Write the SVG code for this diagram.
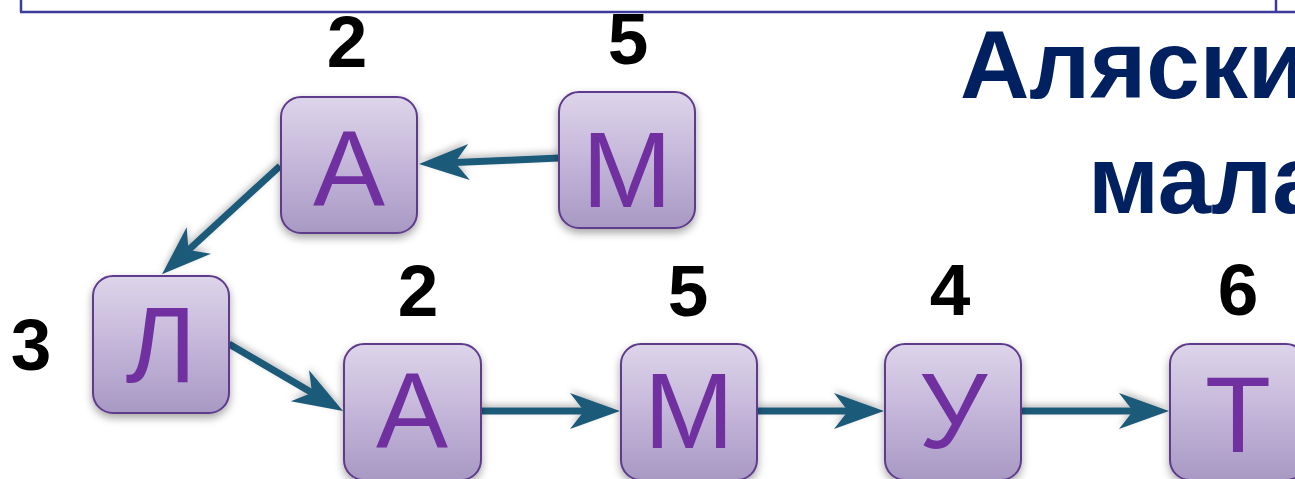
<svg xmlns="http://www.w3.org/2000/svg" width="1295" height="479" viewBox="0 0 1295 479">
<defs>
<linearGradient id="ng" x1="0" y1="0" x2="0" y2="1">
<stop offset="0" stop-color="#ddd5ea"/>
<stop offset="0.5" stop-color="#c4b6d9"/>
<stop offset="1" stop-color="#a899c4"/>
</linearGradient>
<filter id="sh" x="-20%" y="-20%" width="140%" height="150%">
<feDropShadow dx="0" dy="4" stdDeviation="4" flood-color="#000" flood-opacity="0.35"/>
</filter>
<filter id="ash" filterUnits="userSpaceOnUse" x="0" y="0" width="1295" height="479">
<feDropShadow dx="0" dy="-3" stdDeviation="3" flood-color="#000" flood-opacity="0.25"/>
</filter>
<marker id="ah" markerUnits="userSpaceOnUse" markerWidth="60" markerHeight="40" viewBox="-16 -20 54 40" refX="0" refY="0" orient="auto">
<path d="M36,0 L-14,-18 L0,0 L-14,18 Z" fill="#1f5a7a"/>
</marker>
<style>
.node rect{fill:url(#ng);stroke:#5f3b8c;stroke-width:2;filter:url(#sh)}
.node text{font-family:"Liberation Sans",Arial,sans-serif;font-size:108px;fill:#7030a0;text-anchor:middle}
.num{font-family:"Liberation Sans",Arial,sans-serif;font-size:73px;font-weight:bold;fill:#000;text-anchor:middle}
.title{font-family:"Liberation Sans",Arial,sans-serif;font-size:96px;font-weight:bold;fill:#002060}
.conn line{stroke:#1f5a7a;stroke-width:7;marker-end:url(#ah)}
.conn{filter:url(#ash)}
.frame{stroke:#3b3b9a;stroke-width:2.5;fill:none}
</style>
</defs>
<rect width="1295" height="479" fill="#fff"/>
<g id="frame">
<line class="frame" x1="21" y1="-2" x2="21" y2="12"/>
<line class="frame" x1="20" y1="12" x2="1295" y2="12"/>
<line class="frame" x1="1276" y1="-2" x2="1276" y2="12"/>
</g>
<g id="title">
<text class="title" x="960" y="98">Аляски</text>
<text class="title" x="1088" y="213">мала</text>
</g>
<g id="connectors" class="conn">
<line x1="559" y1="158" x2="455" y2="162.5"/>
<line x1="280" y1="166" x2="188.5" y2="250"/>
<line x1="229" y1="344" x2="312" y2="392.8"/>
<line x1="481" y1="411" x2="584" y2="411"/>
<line x1="757" y1="411" x2="848" y2="411"/>
<line x1="1021" y1="411" x2="1133" y2="411"/>
</g>
<g id="node-a1" class="node"><rect x="281" y="97" width="136" height="136" rx="20"/><text x="349" y="206">А</text></g>
<g id="node-m1" class="node"><rect x="559" y="92" width="136" height="136" rx="20"/><text x="627" y="207">М</text></g>
<g id="node-l" class="node"><rect x="93" y="276" width="136" height="137" rx="20"/><text x="161" y="382">Л</text></g>
<g id="node-a2" class="node"><rect x="344" y="344" width="137" height="136" rx="20"/><text x="412" y="448">А</text></g>
<g id="node-m2" class="node"><rect x="621" y="344" width="136" height="136" rx="20"/><text x="689" y="448">М</text></g>
<g id="node-u" class="node"><rect x="885" y="344" width="136" height="136" rx="20"/><text x="953" y="448">У</text></g>
<g id="node-t" class="node"><rect x="1170" y="344" width="136" height="136" rx="20"/><text x="1238" y="452">Т</text></g>
<g id="numbers">
<text class="num" x="347" y="67">2</text>
<text class="num" x="628" y="64">5</text>
<text class="num" x="31" y="370">3</text>
<text class="num" x="418" y="316">2</text>
<text class="num" x="688" y="316">5</text>
<text class="num" x="950" y="315">4</text>
<text class="num" x="1238" y="315">6</text>
</g>
</svg>
